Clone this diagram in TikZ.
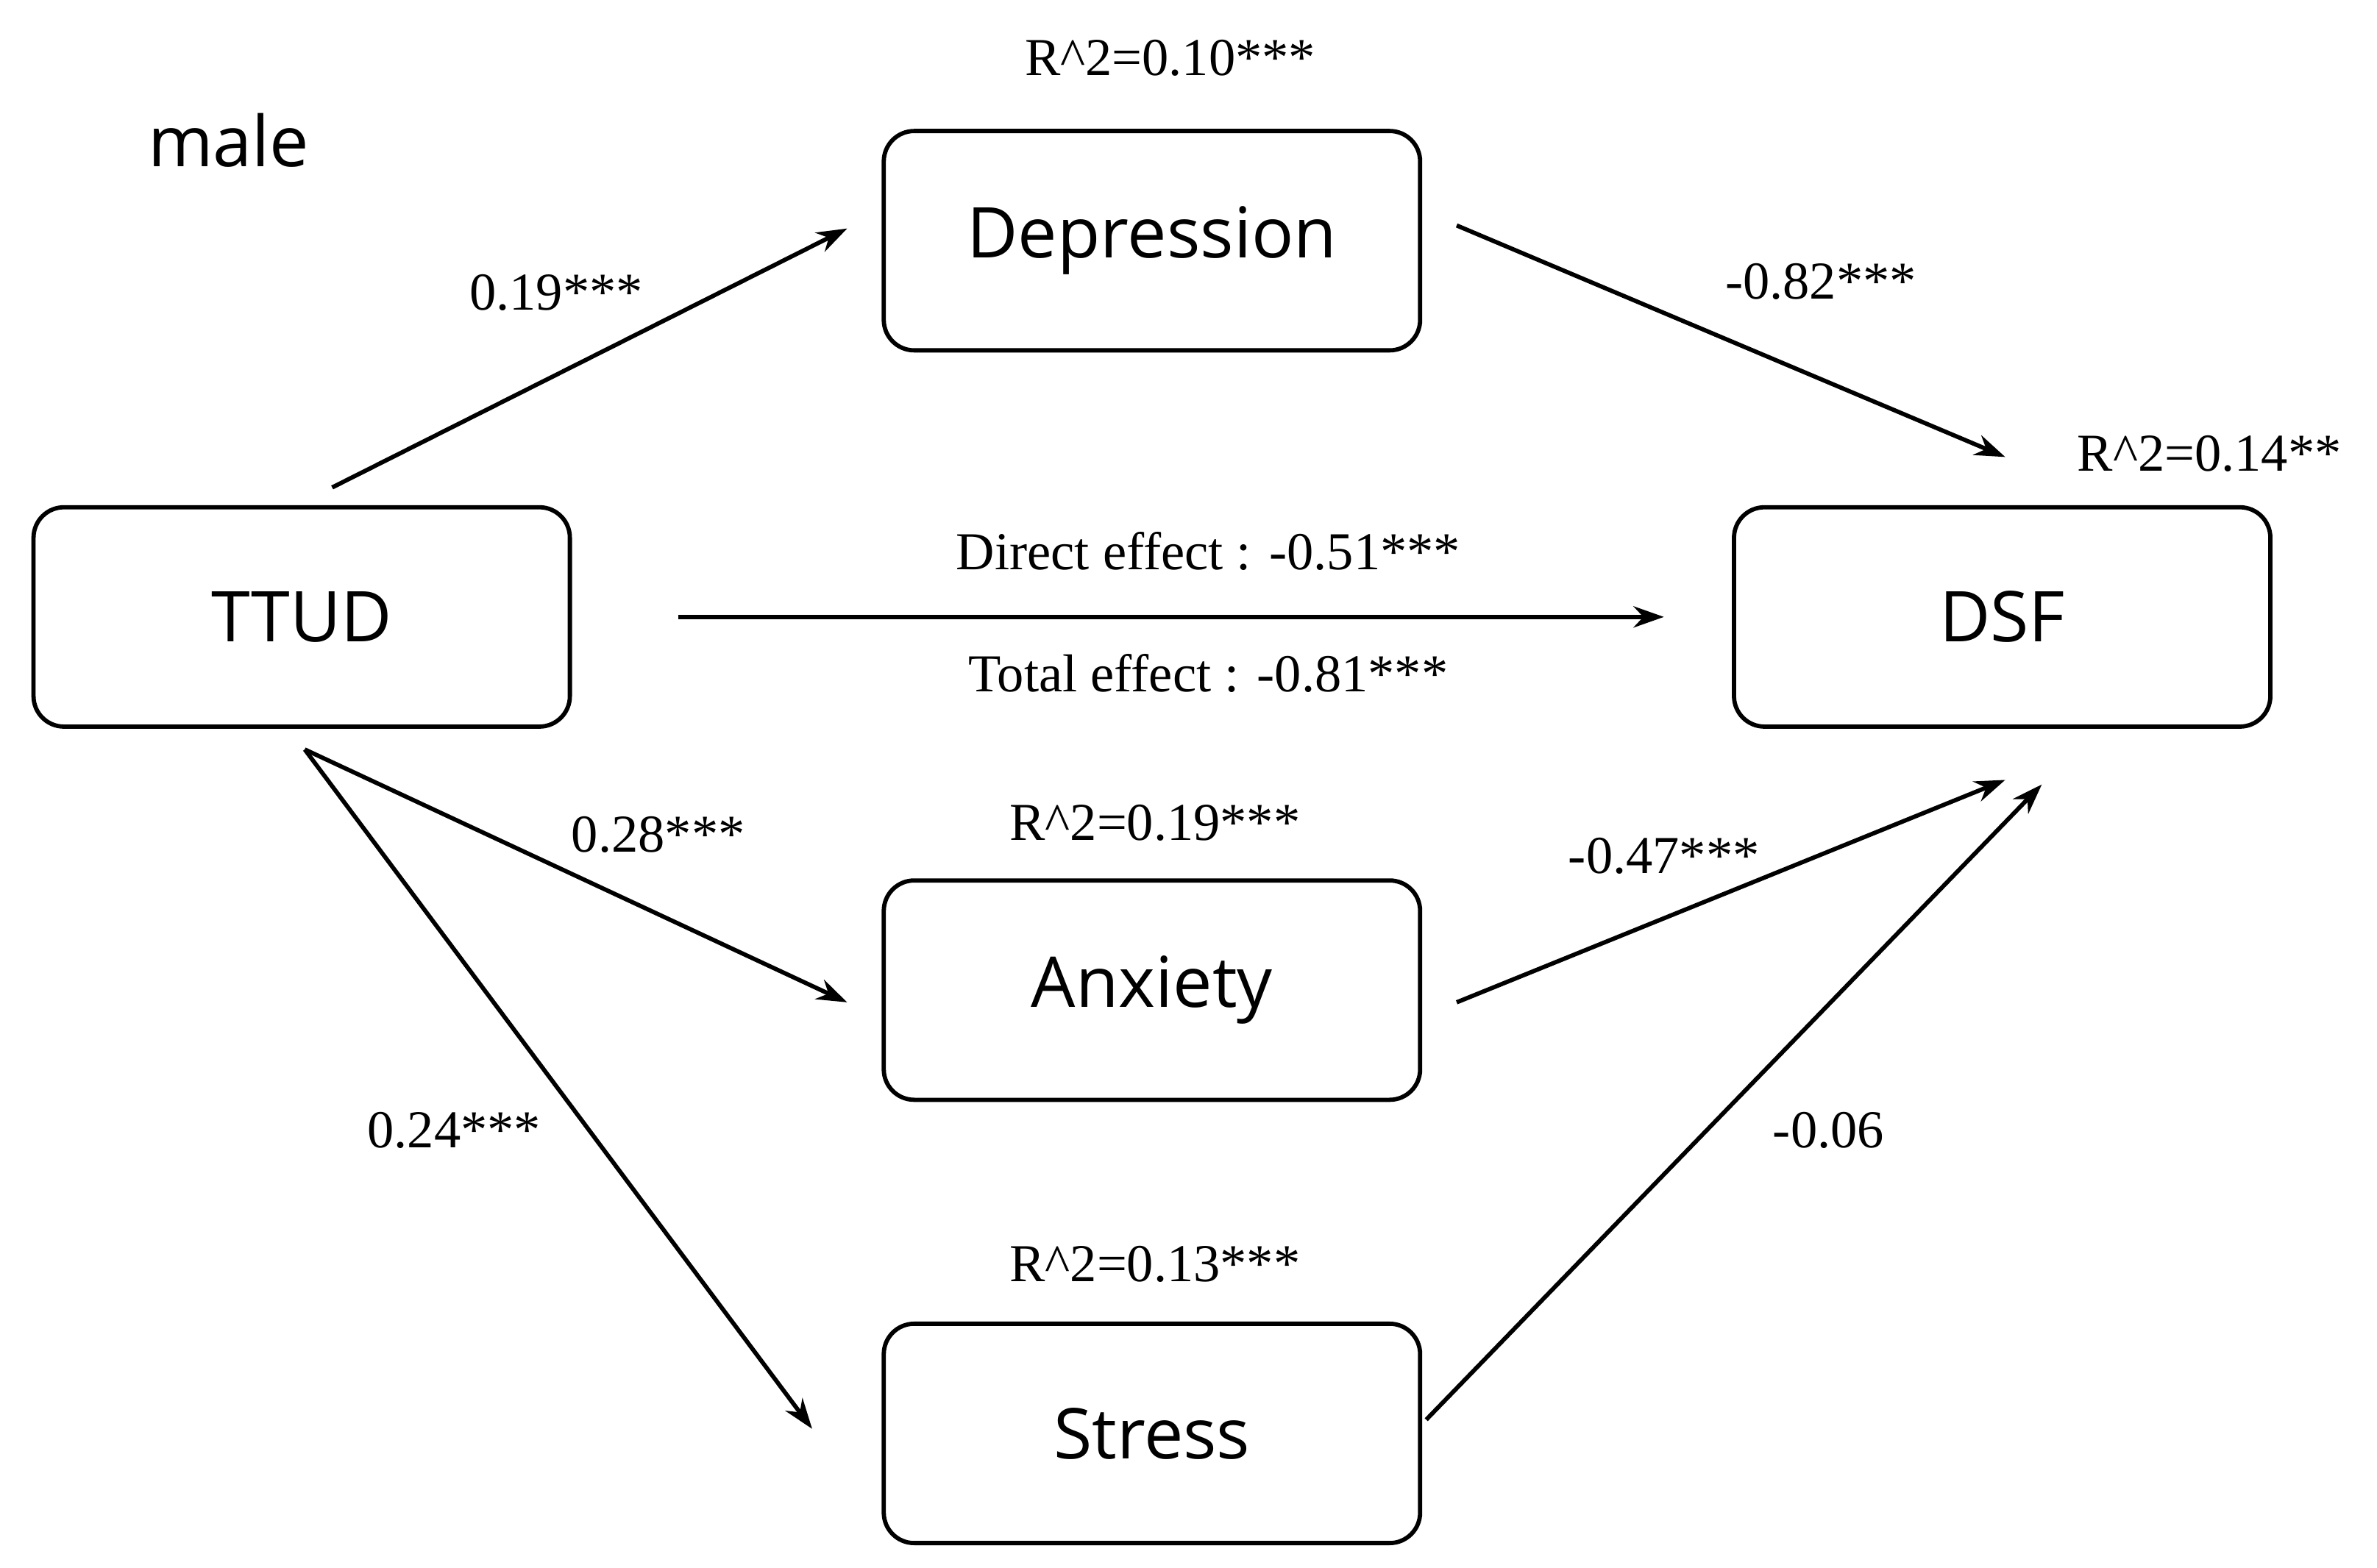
\documentclass[tikz,border=0pt]{standalone}
\usepackage{fontspec}
\setmainfont{Liberation Serif}
\newfontfamily\boxfont{Open Sans}
\usetikzlibrary{arrows.meta}
\begin{document}
\begin{tikzpicture}[x=1pt,y=-1pt,
  box/.style={draw,line width=2.8pt,rounded corners=20pt,minimum width=352pt,minimum height=144pt,font=\boxfont\fontsize{46}{50}\selectfont},
  lab/.style={font=\fontsize{35}{40}\selectfont,inner sep=0pt},
  arr/.style={line width=2.8pt,-{Stealth[length=20pt,width=14pt]}}]
\useasboundingbox (0,0) rectangle (1560,1029);
\node[box] (dep) at (756,158) {Depression};
\node[box] (ttud) at (198,405) {TTUD};
\node[box] (dsf) at (1314,405) {DSF};
\node[box] (anx) at (756,650) {Anxiety};
\node[box] (str) at (756,941) {Stress};
\node[font=\boxfont\fontsize{46}{50}\selectfont] (male) at (150,92) {male};
\coordinate (a1) at (218,320); \coordinate (a2) at (556,150);
\coordinate (b1) at (956,148); \coordinate (b2) at (1316,300);
\coordinate (c1) at (445,405); \coordinate (c2) at (1092,405);
\coordinate (d1) at (200,492); \coordinate (d2) at (556,658);
\coordinate (e2) at (533,938);
\coordinate (f1) at (956,658); \coordinate (f2) at (1316,512);
\coordinate (g1) at (936,932); \coordinate (g2) at (1340,515);
\draw[arr] (a1) -- (a2);
\draw[arr] (b1) -- (b2);
\draw[arr] (c1) -- (c2);
\draw[arr] (d1) -- (d2);
\draw[arr] (d1) -- (e2);
\draw[arr] (f1) -- (f2);
\draw[arr] (g1) -- (g2);
\node[lab] (r1) at (768,38) {R\^{}2=0.10***};
\node[lab] (l1) at (365,192) {0.19***};
\node[lab] (l2) at (1195,185) {-0.82***};
\node[lab] (r2) at (1450,298) {R\^{}2=0.14**};
\node[lab] (de) at (793,362) {Direct effect : -0.51***};
\node[lab] (te) at (793,442) {Total effect : -0.81***};
\node[lab] (l3) at (432,548) {0.28***};
\node[lab] (r3) at (758,540) {R\^{}2=0.19***};
\node[lab] (l4) at (1092,562) {-0.47***};
\node[lab] (l5) at (298,742) {0.24***};
\node[lab] (l6) at (1200,742) {-0.06};
\node[lab] (r4) at (758,830) {R\^{}2=0.13***};
\end{tikzpicture}
\end{document}
